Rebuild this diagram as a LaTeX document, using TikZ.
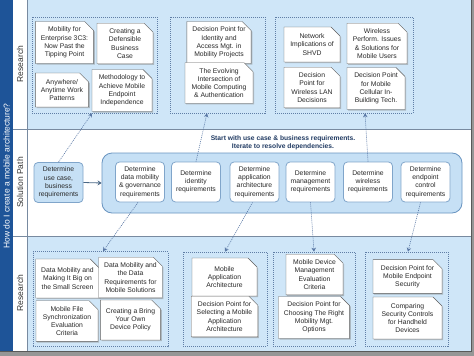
\documentclass[tikz,border=0pt]{standalone}
\usepackage{fontspec}
\setmainfont{Liberation Sans}
\usetikzlibrary{arrows.meta,shapes.misc,shadows}

\definecolor{bandblue}{RGB}{207,230,248}
\definecolor{darkband}{RGB}{30,84,152}
\definecolor{sepline}{RGB}{120,138,160}
\definecolor{grpdraw}{RGB}{96,126,166}
\definecolor{linkcol}{RGB}{90,120,165}
\definecolor{contfill}{RGB}{198,224,245}
\definecolor{contdraw}{RGB}{105,148,192}
\definecolor{boxdraw}{RGB}{128,165,202}
\definecolor{notedraw}{RGB}{95,95,95}
\definecolor{notetext}{RGB}{40,40,40}
\definecolor{hdrtext}{RGB}{32,58,98}
\definecolor{foldfill}{RGB}{210,210,210}
\definecolor{edgegray}{RGB}{150,150,150}

\begin{document}
\begin{tikzpicture}[x=1pt,y=-1pt,
    note/.style={chamfered rectangle, chamfered rectangle corners=north east,
      chamfered rectangle xsep=4.5pt, chamfered rectangle ysep=4.5pt,
      draw=notedraw, line width=0.4pt, fill=white, text=notetext,
      font=\fontsize{6.8}{8.2}\selectfont, align=center, inner sep=1pt,
      drop shadow={shadow xshift=1.2pt, shadow yshift=-1.2pt, opacity=0.45},
      path picture={
        \filldraw[fill=foldfill, draw=notedraw, line width=0.4pt]
          ([xshift=-4.5pt]path picture bounding box.north east)
          -- ([xshift=-4.5pt,yshift=-4.5pt]path picture bounding box.north east)
          -- ([yshift=-4.5pt]path picture bounding box.north east) -- cycle;
      }},
    grp/.style={draw=grpdraw, dash pattern=on 1pt off 1pt, line width=0.6pt},
    reqbox/.style={draw=boxdraw, line width=0.8pt, fill=white, rounded corners=4pt,
      minimum width=49pt, minimum height=40pt, align=center, inner sep=1pt,
      text=notetext, font=\fontsize{6.8}{8.2}\selectfont},
    link/.style={draw=linkcol, dash pattern=on 1pt off 1pt, line width=0.6pt,
      -{Stealth[length=4pt,width=4.5pt]}},
    lane/.style={rotate=90, font=\fontsize{8.5}{10}\selectfont, text=black!80}]

    \useasboundingbox (0,0) rectangle (474,356);

    % lanes
    \fill[edgegray] (0,0) rectangle (474,356);
    \fill[bandblue] (27,0) rectangle (471,129);
    \fill[white] (27,129) rectangle (471,236);
    \fill[bandblue] (27,236) rectangle (471,351);
    \fill[white] (13,0) rectangle (27,351);
    \fill[darkband] (0,0) rectangle (13,351);
    \draw[sepline, line width=0.6pt] (13,129) -- (471,129);
    \draw[sepline, line width=0.6pt] (13,236) -- (471,236);
    \draw[sepline, line width=0.6pt] (27,0) -- (27,351);
    \draw[black!65, line width=1pt] (471,0) -- (471,351) -- (0,351);

    \node[lane, text=white] (title) at (6.5,176) {How do I create a mobile architecture?};
    \node[lane] (lane1) at (20,64) {Research};
    \node[lane] (lane2) at (20,182.5) {Solution Path};
    \node[lane] (lane3) at (20,293) {Research};

    % research groups, top
    \node[grp, minimum width=125pt, minimum height=96pt] (g1) at (94.5,65) {};
    \node[grp, minimum width=95pt, minimum height=96pt] (g2) at (217.5,65) {};
    \node[grp, minimum width=138pt, minimum height=96pt] (g3) at (344,65) {};

    \node[note, minimum width=57pt, minimum height=41pt] (n1) at (64.5,42.5) {Mobility for\\Enterprise 3C3:\\Now Past the\\Tipping Point};
    \node[note, minimum width=56pt, minimum height=37pt] (n2) at (125,43.5) {Creating a\\Defensible\\Business\\Case};
    \node[note, minimum width=52pt, minimum height=34pt] (n3) at (62,90) {Anywhere/\\Anytime Work\\Patterns};
    \node[note, minimum width=60pt, minimum height=39pt] (n4) at (122,90.5) {Methodology to\\Achieve Mobile\\Endpoint\\Independence};
    \node[note, minimum width=62pt, minimum height=39pt] (n5) at (219,42.5) {Decision Point for\\Identity and\\Access Mgt. in\\Mobility Projects};
    \node[note, minimum width=68pt, minimum height=34pt] (n6) at (219,83) {The Evolving\\Intersection of\\Mobile Computing\\\& Authentication};
    \node[note, minimum width=56pt, minimum height=35pt] (n7) at (312,44.5) {Network\\Implications of\\SHVD};
    \node[note, minimum width=60pt, minimum height=37pt] (n8) at (377,43.5) {Wireless\\Perform. Issues\\\& Solutions for\\Mobile Users};
    \node[note, minimum width=56pt, minimum height=31pt] (n9) at (312,87.5) {Decision\\Point for\\Wireless LAN\\Decisions};
    \node[note, minimum width=58pt, minimum height=33pt] (n10) at (376,88.5) {Decision Point\\for Mobile\\Cellular In-\\Building Tech.};

    % solution path
    \node[font=\fontsize{6.7}{8}\selectfont\bfseries, text=hdrtext, align=center] (hint) at (283,143)
      {Start with use case \& business requirements.\\Iterate to resolve dependencies.};
    \node[draw=contdraw, fill=contfill, line width=0.8pt, rounded corners=10pt,
      minimum width=360pt, minimum height=60pt] (reqs) at (282,183) {};
    \node[reqbox, fill=contfill] (usecase) at (58.5,182.5) {Determine\\use case,\\business\\requirements};
    \node[reqbox] (data) at (140,182) {Determine\\data mobility\\\& governance\\requirements};
    \node[reqbox] (ident) at (196,182) {Determine\\identity\\requirements};
    \node[reqbox] (app) at (254.5,182) {Determine\\application\\architecture\\requirements};
    \node[reqbox] (mgmt) at (310.5,182) {Determine\\management\\requirements};
    \node[reqbox] (wless) at (368,182) {Determine\\wireless\\requirements};
    \node[reqbox] (endpt) at (425.5,182) {Determine\\endpoint\\control\\requirements};
    \draw[draw=contdraw!70!black, line width=0.8pt, -{Stealth[length=4pt,width=5pt]}] (usecase.east) -- (reqs.west);

    % research groups, bottom
    \node[grp, minimum width=135pt, minimum height=95pt] (g4) at (100.5,299) {};
    \node[grp, minimum width=84pt, minimum height=94pt] (g5) at (225,299) {};
    \node[grp, minimum width=82pt, minimum height=94pt] (g6) at (314,299) {};
    \node[grp, minimum width=83pt, minimum height=94pt] (g7) at (406.5,299) {};

    \node[note, minimum width=61pt, minimum height=39pt] (n11) at (67.5,278.5) {Data Mobility and\\Making It Big on\\the Small Screen};
    \node[note, minimum width=59pt, minimum height=39pt] (n12) at (130.5,277.5) {Data Mobility and\\the Data\\Requirements for\\Mobile Solutions};
    \node[note, minimum width=62pt, minimum height=38pt] (n13) at (67,321) {Mobile File\\Synchronization\\Evaluation\\Criteria};
    \node[note, minimum width=59pt, minimum height=40pt] (n14) at (130.5,320) {Creating a Bring\\Your Own\\Device Policy};
    \node[note, minimum width=65pt, minimum height=38pt] (n15) at (224.5,277) {Mobile\\Application\\Architecture};
    \node[note, minimum width=65pt, minimum height=37pt] (n16) at (224.5,316.5) {Decision Point for\\Selecting a Mobile\\Application\\Architecture};
    \node[note, minimum width=57pt, minimum height=39pt] (n17) at (314.5,274.5) {Mobile Device\\Management\\Evaluation\\Criteria};
    \node[note, minimum width=68pt, minimum height=39pt] (n18) at (314,317.5) {Decision Point for\\Choosing The Right\\Mobility Mgt.\\Options};
    \node[note, minimum width=69pt, minimum height=33pt] (n19) at (407.5,276.5) {Decision Point for\\Mobile Endpoint\\Security};
    \node[note, minimum width=69pt, minimum height=42pt] (n20) at (407.5,318) {Comparing\\Security Controls\\for Handheld\\Devices};

    % dependencies
    \draw[link] (usecase.north) -- ([xshift=-2.5pt]g1.south);
    \draw[link] (ident.north) -- ([xshift=-10.5pt]g2.south);
    \draw[link] (wless.north) -- ([xshift=21pt]g3.south);
    \draw[link] ([xshift=-2pt]data.south) -- ([xshift=2.5pt]g4.north);
    \draw[link] ([xshift=-2pt]app.south) -- (g5.north);
    \draw[link] (mgmt.south) -- (g6.north);
    \draw[link] ([xshift=-5pt]endpt.south) -- ([xshift=1.5pt]g7.north);
\end{tikzpicture}
\end{document}
